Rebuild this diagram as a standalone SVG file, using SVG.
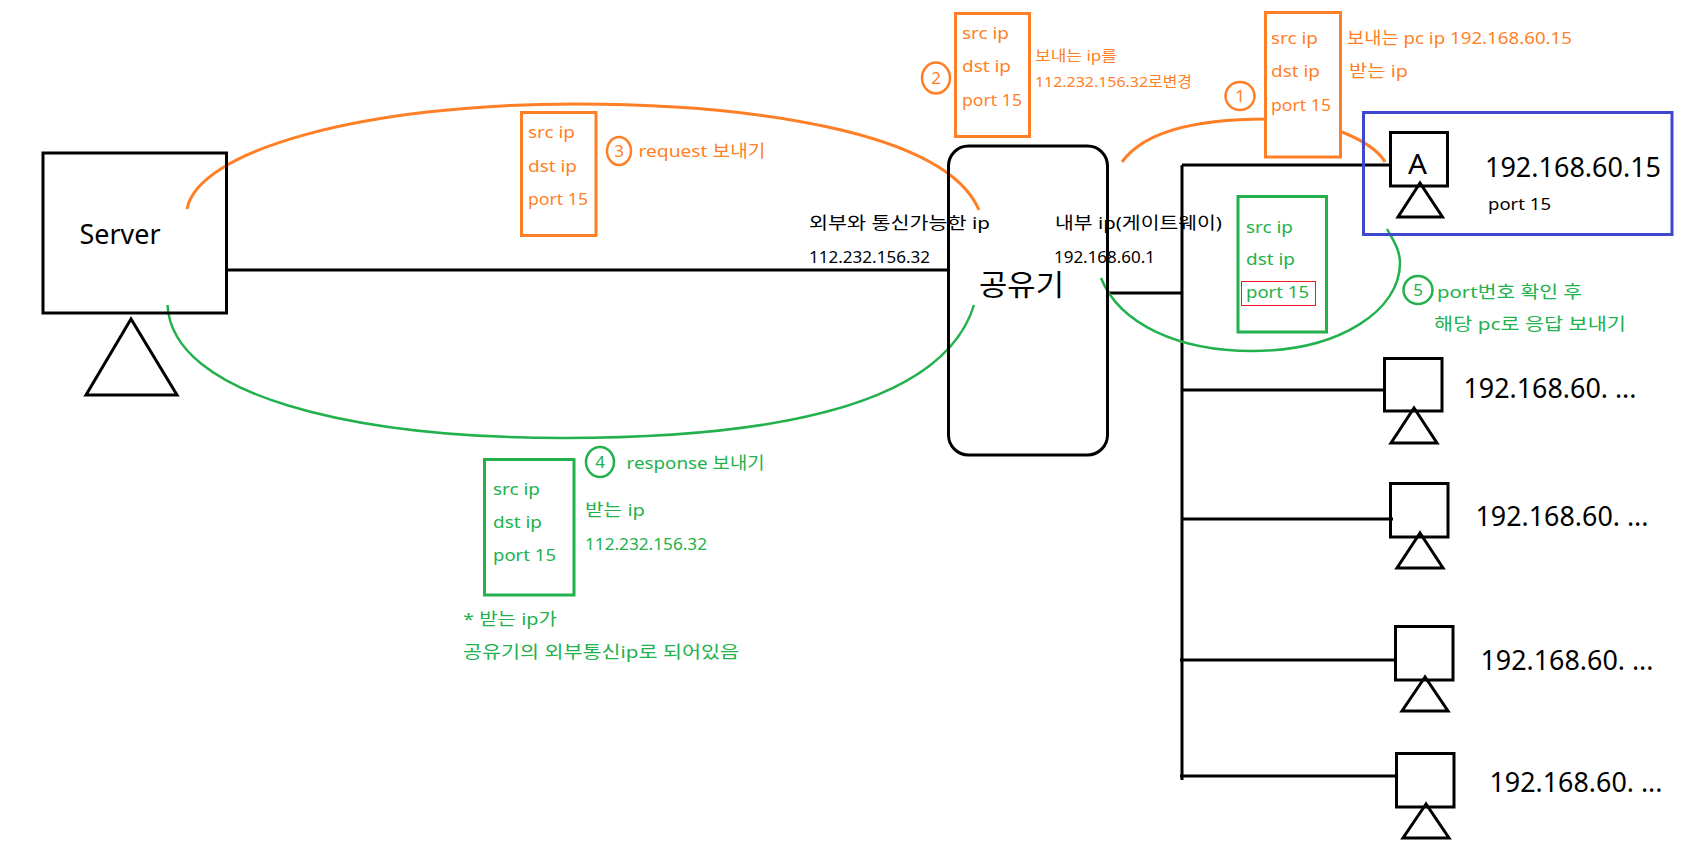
<svg xmlns="http://www.w3.org/2000/svg" width="1688" height="848" viewBox="0 0 1688 848">
<style>
text{font-family:"Noto Sans","Noto Sans CJK KR",sans-serif;font-size:17px;fill:#000}
.o text,text.o{fill:#ff7f27}
.g text,text.g{fill:#22b14c}
.big{font-size:27px}
.box{fill:none;stroke:#000;stroke-width:3}
.tri{fill:none;stroke:#000;stroke-width:3;stroke-linejoin:miter}
.wire{fill:none;stroke:#000;stroke-width:3}
.oa{fill:none;stroke:#ff7f27;stroke-width:3}
.ga{fill:none;stroke:#22b14c;stroke-width:2.500}
.ob{fill:none;stroke:#ff7f27;stroke-width:3}
.gb{fill:none;stroke:#22b14c;stroke-width:3}
</style>
<rect width="1688" height="848" fill="#fff"/>
<g id="connectors">
<path class="wire" d="M227 270H950"/>
<path class="wire" d="M1108 293H1182M1182 165V780M1182 165H1390M1182 390H1384M1182 519H1393M1180 660H1395M1180 776H1396"/>
<path class="oa" d="M187 209C198 150 365 104 575 104C745 104 945 130 979 210"/>
<path class="ga" d="M167.500 305C172 395 350 438 564 438C740 438 940 415 974 305"/>
<path class="oa" d="M1122 162C1145 130 1200 119 1266 119"/>
<path class="oa" d="M1342 132C1362 140 1378 150 1385 162"/>
<path class="ga" d="M1101 278C1120 325 1180 351 1252 351C1340 351 1400 310 1400 263C1400 250 1393 240 1387 229"/>
</g>
<g id="server">
<rect class="box" x="43" y="153" width="183.500" height="160"/>
<path class="tri" d="M131 319L86 395H177Z"/>
<text class="big" x="79.500" y="243.500" textLength="81" lengthAdjust="spacingAndGlyphs">Server</text>
</g>
<g id="router">
<rect x="948.500" y="146" width="159" height="309" rx="20" fill="none" stroke="#000" stroke-width="3"/>
<text x="979" y="296" style="font-size:29px" textLength="85" lengthAdjust="spacingAndGlyphs">공유기</text>
<text x="809" y="229" textLength="181" lengthAdjust="spacingAndGlyphs">외부와 통신가능한 ip</text>
<text x="809" y="263" textLength="121" lengthAdjust="spacingAndGlyphs">112.232.156.32</text>
<text x="1055" y="229" textLength="167" lengthAdjust="spacingAndGlyphs">내부 ip(게이트웨이)</text>
<text x="1054" y="263" textLength="101" lengthAdjust="spacingAndGlyphs">192.168.60.1</text>
</g>
<g id="step1" class="o">
<rect class="ob" x="1265.500" y="12.500" width="75" height="144.500"/>
<text x="1271" y="44" textLength="47" lengthAdjust="spacingAndGlyphs">src ip</text>
<text x="1271" y="77" textLength="49" lengthAdjust="spacingAndGlyphs">dst ip</text>
<text x="1271" y="111" textLength="60" lengthAdjust="spacingAndGlyphs">port 15</text>
<ellipse cx="1240" cy="96" rx="14.500" ry="14" fill="none" stroke="#ff7f27" stroke-width="2.500"/>
<text x="1240" y="102" text-anchor="middle">1</text>
<text x="1347" y="44" textLength="225" lengthAdjust="spacingAndGlyphs">보내는 pc ip 192.168.60.15</text>
<text x="1349" y="77" textLength="59" lengthAdjust="spacingAndGlyphs">받는 ip</text>
</g>
<g id="step2" class="o">
<rect class="ob" x="955.500" y="13.500" width="74" height="123"/>
<text x="962" y="39" textLength="47" lengthAdjust="spacingAndGlyphs">src ip</text>
<text x="962" y="72" textLength="49" lengthAdjust="spacingAndGlyphs">dst ip</text>
<text x="962" y="106" textLength="60" lengthAdjust="spacingAndGlyphs">port 15</text>
<ellipse cx="936" cy="78" rx="14" ry="15.500" fill="none" stroke="#ff7f27" stroke-width="2.500"/>
<text x="936" y="84" text-anchor="middle">2</text>
<text x="1035" y="61" style="font-size:15px" textLength="82" lengthAdjust="spacingAndGlyphs">보내는 ip를</text>
<text x="1035" y="87" style="font-size:15px" textLength="157" lengthAdjust="spacingAndGlyphs">112.232.156.32로변경</text>
</g>
<g id="step3" class="o">
<rect class="ob" x="521.500" y="112.500" width="74.500" height="123"/>
<text x="528" y="138" textLength="47" lengthAdjust="spacingAndGlyphs">src ip</text>
<text x="528" y="172" textLength="49" lengthAdjust="spacingAndGlyphs">dst ip</text>
<text x="528" y="205" textLength="60" lengthAdjust="spacingAndGlyphs">port 15</text>
<ellipse cx="619" cy="151" rx="12" ry="14" fill="none" stroke="#ff7f27" stroke-width="2.500"/>
<text x="619" y="157" text-anchor="middle">3</text>
<text x="638.500" y="157" textLength="127" lengthAdjust="spacingAndGlyphs">request 보내기</text>
</g>
<g id="step4" class="g">
<rect class="gb" x="484.500" y="459.500" width="89.500" height="135.500"/>
<text x="493" y="495" textLength="47" lengthAdjust="spacingAndGlyphs">src ip</text>
<text x="493" y="528" textLength="49" lengthAdjust="spacingAndGlyphs">dst ip</text>
<text x="493" y="561" textLength="63" lengthAdjust="spacingAndGlyphs">port 15</text>
<ellipse cx="600" cy="462" rx="14" ry="15" fill="none" stroke="#22b14c" stroke-width="2.500"/>
<text x="600" y="468" text-anchor="middle">4</text>
<text x="626.500" y="469" textLength="138" lengthAdjust="spacingAndGlyphs">response 보내기</text>
<text x="585" y="516" textLength="60" lengthAdjust="spacingAndGlyphs">받는 ip</text>
<text x="585" y="550" textLength="122" lengthAdjust="spacingAndGlyphs">112.232.156.32</text>
<text x="463" y="625" textLength="94" lengthAdjust="spacingAndGlyphs">* 받는 ip가</text>
<text x="463" y="658" textLength="276" lengthAdjust="spacingAndGlyphs">공유기의 외부통신ip로 되어있음</text>
</g>
<g id="step5" class="g">
<rect class="gb" x="1238" y="196.500" width="88.500" height="135.500"/>
<rect x="1241.500" y="281.500" width="74" height="24" fill="none" stroke="#ed1c24" stroke-width="1"/>
<text x="1246" y="233" textLength="47" lengthAdjust="spacingAndGlyphs">src ip</text>
<text x="1246" y="265" textLength="49" lengthAdjust="spacingAndGlyphs">dst ip</text>
<text x="1246" y="298" textLength="63" lengthAdjust="spacingAndGlyphs">port 15</text>
<ellipse cx="1418" cy="290" rx="14.500" ry="14" fill="none" stroke="#22b14c" stroke-width="2.500"/>
<text x="1418" y="296" text-anchor="middle">5</text>
<text x="1437" y="298" textLength="145" lengthAdjust="spacingAndGlyphs">port번호 확인 후</text>
<text x="1434" y="330" textLength="192" lengthAdjust="spacingAndGlyphs">해당 pc로 응답 보내기</text>
</g>
<g id="pc-a">
<rect x="1363.500" y="112.500" width="308.500" height="122" fill="none" stroke="#3f48cc" stroke-width="3"/>
<rect class="box" x="1390.500" y="132.500" width="57" height="53.500"/>
<path class="tri" d="M1420 183L1398 217H1442.500Z"/>
<text class="big" x="1408" y="173.500" textLength="19" lengthAdjust="spacingAndGlyphs">A</text>
<text class="big" x="1485" y="177" textLength="176" lengthAdjust="spacingAndGlyphs">192.168.60.15</text>
<text x="1488" y="210" textLength="63" lengthAdjust="spacingAndGlyphs">port 15</text>
</g>
<g id="pc-2">
<rect class="box" x="1384.500" y="358.500" width="57.500" height="52.500"/>
<path class="tri" d="M1414 408L1391 443H1437Z"/>
<text class="big" x="1463.500" y="398" textLength="173" lengthAdjust="spacingAndGlyphs">192.168.60. ...</text>
</g>
<g id="pc-3">
<rect class="box" x="1390.500" y="483.500" width="57.500" height="53.500"/>
<path class="tri" d="M1420 533L1397 568H1443Z"/>
<text class="big" x="1475.500" y="526" textLength="173" lengthAdjust="spacingAndGlyphs">192.168.60. ...</text>
</g>
<g id="pc-4">
<rect class="box" x="1395.500" y="626.500" width="57.500" height="53.500"/>
<path class="tri" d="M1425 677L1402 711H1448Z"/>
<text class="big" x="1480.500" y="670" textLength="173" lengthAdjust="spacingAndGlyphs">192.168.60. ...</text>
</g>
<g id="pc-5">
<rect class="box" x="1396.500" y="753.500" width="57.500" height="53.500"/>
<path class="tri" d="M1426 804L1403 838H1449Z"/>
<text class="big" x="1489.500" y="792" textLength="173" lengthAdjust="spacingAndGlyphs">192.168.60. ...</text>
</g>
</svg>
